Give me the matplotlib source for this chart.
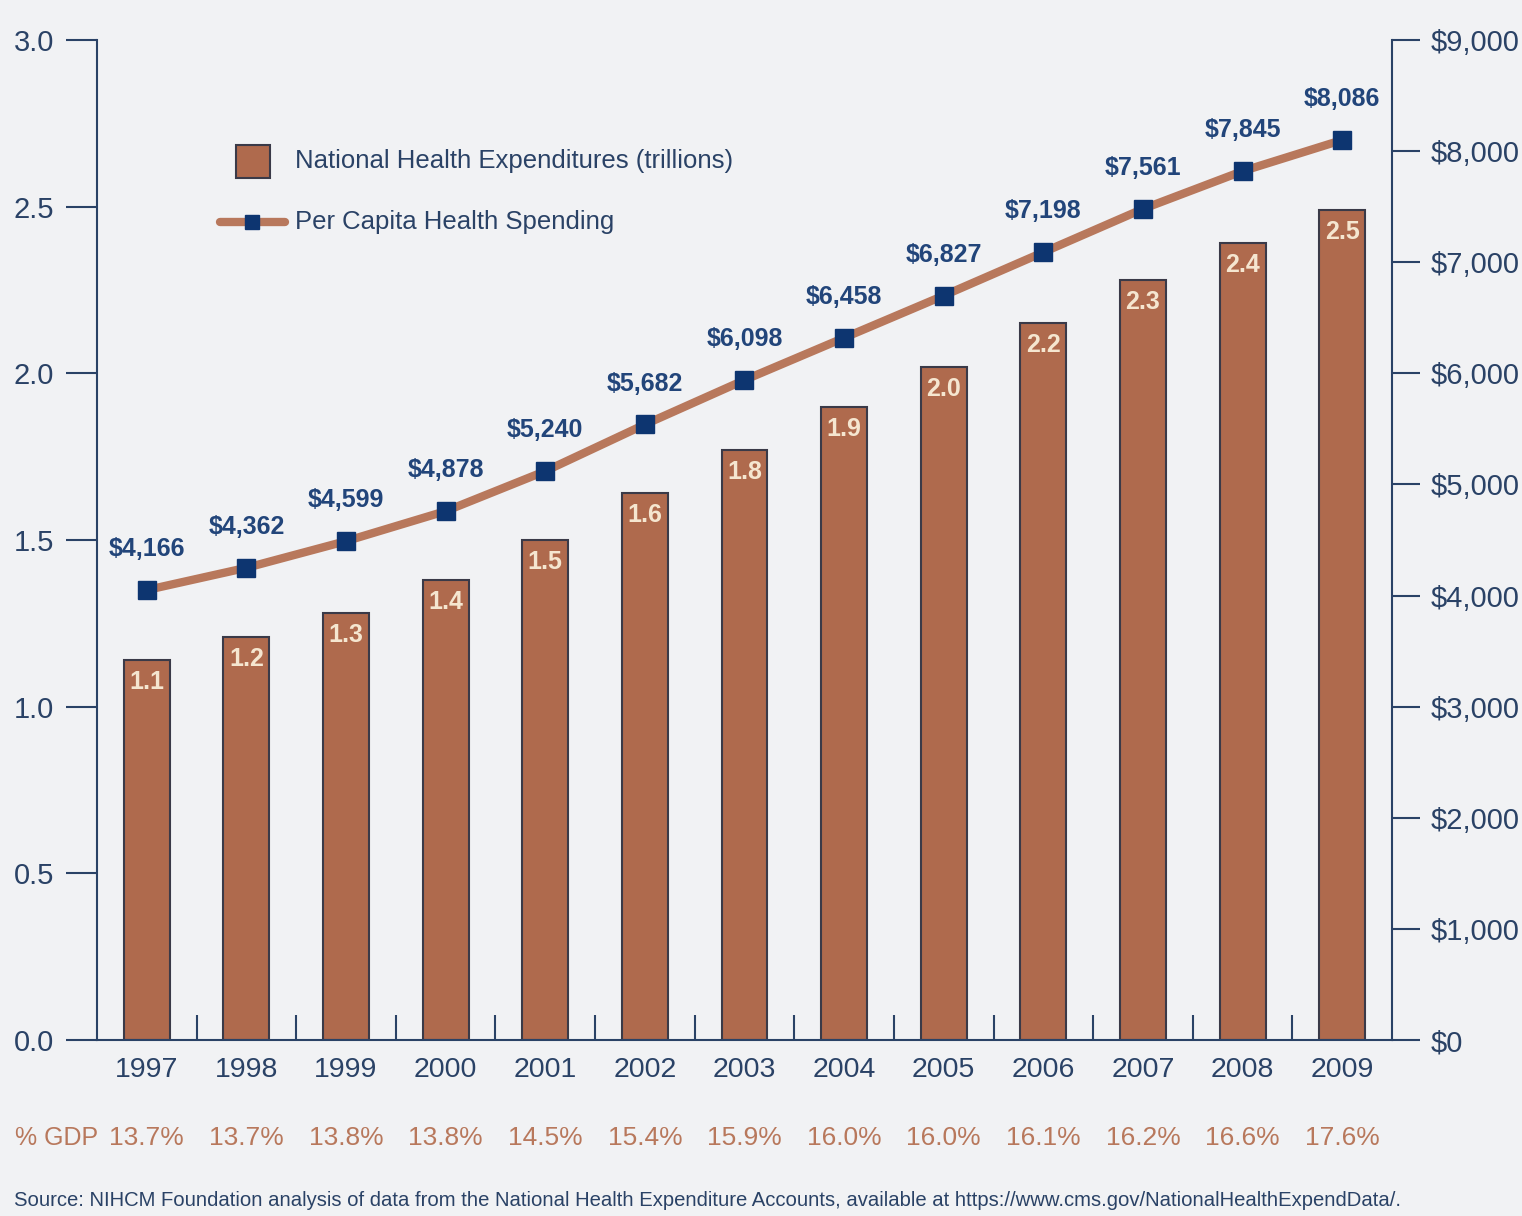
import matplotlib.pyplot as plt
import numpy as np
from matplotlib.lines import Line2D
from matplotlib.patches import Rectangle

plt.rcParams['font.family'] = ['Liberation Sans', 'DejaVu Sans']

# 数据
years = ['1997', '1998', '1999', '2000', '2001', '2002', '2003',
         '2004', '2005', '2006', '2007', '2008', '2009']
nhe = [1.14, 1.21, 1.28, 1.38, 1.50, 1.64, 1.77, 1.90, 2.02, 2.15, 2.28, 2.39, 2.49]
nhe_labels = ['1.1', '1.2', '1.3', '1.4', '1.5', '1.6', '1.8',
              '1.9', '2.0', '2.2', '2.3', '2.4', '2.5']
per_capita = [4050, 4250, 4490, 4760, 5120, 5540, 5940, 6320, 6700, 7090, 7480, 7820, 8100]
per_capita_labels = [4166, 4362, 4599, 4878, 5240, 5682, 6098,
                     6458, 6827, 7198, 7561, 7845, 8086]
gdp_share = ['13.7%', '13.7%', '13.8%', '13.8%', '14.5%', '15.4%', '15.9%',
             '16.0%', '16.0%', '16.1%', '16.2%', '16.6%', '17.6%']

navy = '#2A4266'
label_blue = '#22457A'
bar_color = '#AF6A4D'
line_color = '#B8785C'
marker_color = '#0D3570'
bg = '#F1F2F4'

fig = plt.figure(figsize=(15.22, 12.16), dpi=100, facecolor=bg)
ax = fig.add_axes([0.0637, 0.1447, 0.8509, 0.8224])
ax.set_facecolor(bg)
ax2 = ax.twinx()

x = np.arange(len(years))

# 柱状图
ax.bar(x, nhe, width=0.46, color=bar_color, edgecolor='#3A3A48', linewidth=1.5, zorder=2)
for xi, h, lab in zip(x, nhe, nhe_labels):
    ax.text(xi, h - 0.03, lab, ha='center', va='top', fontsize=18, fontweight='bold',
            color='#F5E6D0', zorder=3)

ax.set_xlim(-0.5, len(years) - 0.5)
ax.set_ylim(0, 3.0)
ax.set_yticks(np.arange(0, 3.01, 0.5))
ax.set_yticklabels([f'{v:.1f}' for v in np.arange(0, 3.01, 0.5)])
ax.set_xticks(x)
ax.set_xticklabels(years)
ax.set_xticks(x[:-1] + 0.5, minor=True)
ax.tick_params(axis='x', which='major', length=0, pad=12, labelsize=20.5, labelcolor=navy)
ax.tick_params(axis='x', which='minor', direction='in', length=18, width=1.5, color=navy)
ax.tick_params(axis='y', length=22, width=1.5, color=navy, labelsize=21, labelcolor=navy, pad=9)

for s in ['top', 'right']:
    ax.spines[s].set_visible(False)
for s in ['left', 'bottom']:
    ax.spines[s].set_color(navy)
    ax.spines[s].set_linewidth(1.5)

# 折线图
ax2.plot(x, per_capita, color=line_color, linewidth=6, zorder=4)
ax2.plot(x, per_capita, linestyle='none', marker='s', markersize=13,
         color=marker_color, zorder=5)
for xi, v, lab in zip(x, per_capita, per_capita_labels):
    ax2.text(xi, v + 260, f'${lab:,}', ha='center', va='bottom', fontsize=18,
             fontweight='bold', color=label_blue, zorder=6)

ax2.set_ylim(0, 9000)
ax2.set_yticks(np.arange(0, 9001, 1000))
ax2.set_yticklabels([f'${v:,}' for v in range(0, 9001, 1000)])
ax2.tick_params(axis='y', length=20, width=1.5, color=navy, labelsize=21, labelcolor=navy, pad=8)
for s in ['top', 'left', 'bottom']:
    ax2.spines[s].set_visible(False)
ax2.spines['right'].set_color(navy)
ax2.spines['right'].set_linewidth(1.5)

# 图例 (手动绘制)
ax2.add_patch(Rectangle((0.1073, 0.862), 0.0263, 0.033, transform=ax.transAxes,
                        facecolor=bar_color, edgecolor='#3A3A48', linewidth=1.5,
                        clip_on=False, zorder=6))
ax2.add_line(Line2D([0.095, 0.145], [0.818, 0.818], transform=ax.transAxes,
                    color=line_color, linewidth=6, solid_capstyle='round', zorder=6))
ax2.add_line(Line2D([0.1196], [0.818], transform=ax.transAxes, marker='s',
                    markersize=10, color=marker_color, zorder=7))
ax2.text(0.1529, 0.879, 'National Health Expenditures (trillions)', transform=ax.transAxes,
         fontsize=18.5, color=navy, ha='left', va='center')
ax2.text(0.1529, 0.818, 'Per Capita Health Spending', transform=ax.transAxes,
         fontsize=18.5, color=navy, ha='left', va='center')

# % GDP 行
fig.text(0.010, 0.064, '% GDP', fontsize=18, color=line_color, ha='left', va='center')
for xi, g in zip(x, gdp_share):
    xf = fig.transFigure.inverted().transform(ax.transData.transform((xi, 0)))[0]
    fig.text(xf, 0.064, g, fontsize=19, color=line_color, ha='center', va='center')

fig.text(0.009, 0.013, 'Source: NIHCM Foundation analysis of data from the National Health '
         'Expenditure Accounts, available at https://www.cms.gov/NationalHealthExpendData/.',
         fontsize=14.6, color=navy, ha='left', va='center')

plt.savefig('out.png', dpi=100, facecolor=bg)
